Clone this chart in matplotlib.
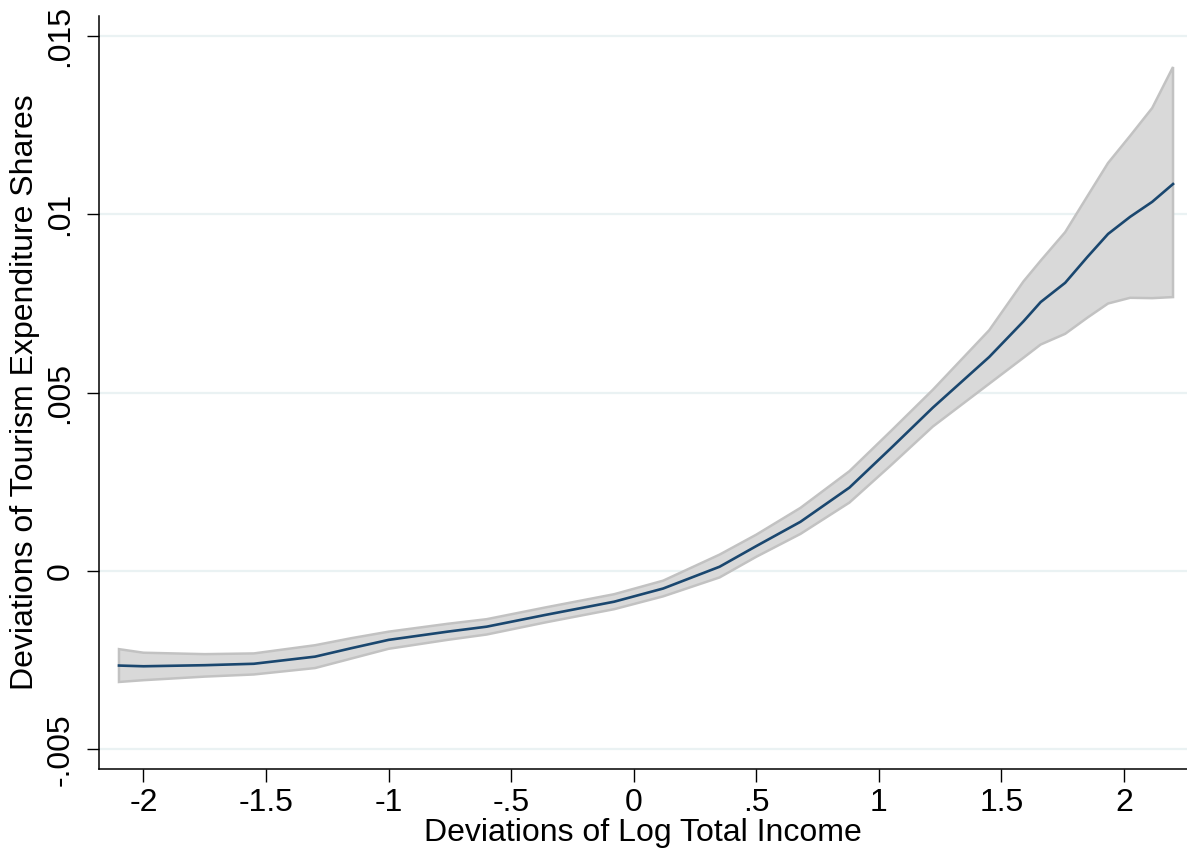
import matplotlib
matplotlib.use("Agg")
import matplotlib.pyplot as plt

plt.rcParams['font.family'] = ['Liberation Sans', 'DejaVu Sans']

# Data
x_vals = [-2.10, -2.00, -1.75, -1.55, -1.30, -1.15, -1.00, -0.76, -0.60, -0.36,
          -0.08, 0.12, 0.35, 0.50, 0.68, 0.88, 1.05, 1.22, 1.45, 1.59,
          1.66, 1.76, 1.85, 1.935, 2.025, 2.115, 2.20]
fit_vals = [-0.00265, -0.00267, -0.00264, -0.00260, -0.00240, -0.00216, -0.00193,
            -0.00170, -0.00156, -0.00123, -0.00086, -0.00049, 0.00012, 0.00070,
            0.00138, 0.00234, 0.00345, 0.00458, 0.00600, 0.00700, 0.00754,
            0.00808, 0.00880, 0.00945, 0.00993, 0.01035, 0.01085]
upper_vals = [-0.00219, -0.00229, -0.00233, -0.00231, -0.00208, -0.00188, -0.00170,
              -0.00148, -0.00135, -0.00102, -0.00065, -0.00027, 0.00046, 0.00102,
              0.00177, 0.00280, 0.00393, 0.00508, 0.00675, 0.00812, 0.00870,
              0.00950, 0.01050, 0.01144, 0.01220, 0.01298, 0.01413]
lower_vals = [-0.00311, -0.00306, -0.00296, -0.00290, -0.00272, -0.00245, -0.00218,
              -0.00193, -0.00178, -0.00144, -0.00107, -0.00071, -0.00018, 0.00040,
              0.00104, 0.00192, 0.00297, 0.00405, 0.00525, 0.00598, 0.00635,
              0.00665, 0.00710, 0.00750, 0.00766, 0.00765, 0.00768]

x_ticks = [-2, -1.5, -1, -0.5, 0, 0.5, 1, 1.5, 2]
x_tick_labels = ['-2', '-1.5', '-1', '-.5', '0', '.5', '1', '1.5', '2']
y_ticks = [-0.005, 0, 0.005, 0.01, 0.015]
y_tick_labels = ['-.005', '0', '.005', '.01', '.015']

FS = 23

fig = plt.figure(figsize=(11.87, 8.56), dpi=100)
ax = fig.add_axes([99/1187, 87/856, 1 - 99/1187, (769 - 16)/856])

for yt in y_ticks:
    ax.axhline(yt, color='#eaf2f3', lw=1.6, zorder=0)

# confidence band: fill plus outline
band_x = x_vals + x_vals[::-1]
band_y = upper_vals + lower_vals[::-1]
ax.fill(band_x, band_y, facecolor='#d9d9d9', edgecolor='#c2c2c2', lw=1.8, zorder=1)
ax.plot(x_vals, fit_vals, color='#1a476f', lw=1.9, zorder=2)

ax.set_xlim(-2.1815, 2.257)
ax.set_ylim(-0.00555, 0.01556)

ax.set_xticks(x_ticks)
ax.set_xticklabels(x_tick_labels, fontsize=FS)
ax.set_yticks(y_ticks)
ax.set_yticklabels(y_tick_labels, fontsize=FS, rotation=90, va='center')

ax.tick_params(axis='both', direction='out', length=9, width=1.0, color='black')
ax.tick_params(axis='x', pad=5)
ax.tick_params(axis='y', pad=8)

for s in ['top', 'right']:
    ax.spines[s].set_visible(False)
for s in ['left', 'bottom']:
    ax.spines[s].set_linewidth(1.1)

ax.set_xlabel('Deviations of Log Total Income', fontsize=FS, labelpad=0)
ax.set_ylabel('Deviations of Tourism Expenditure Shares', fontsize=FS, labelpad=4)

fig.savefig('out.png', dpi=100, facecolor='white')
